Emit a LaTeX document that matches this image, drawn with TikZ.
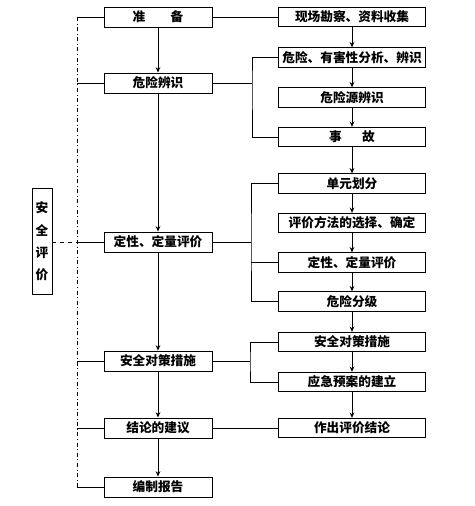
\documentclass[tikz,border=0pt]{standalone}
\usepackage{fontspec}
\newfontfamily\cjk{Noto Sans CJK SC}
\usetikzlibrary{arrows.meta}

\begin{document}
\begin{tikzpicture}[
    x=0.75pt, y=-0.75pt,
    every node/.style={font=\cjk\bfseries\fontsize{9.5}{11}\selectfont},
    lbox/.style={rectangle, draw, line width=0.7pt, inner sep=0pt,
        minimum width=81pt, minimum height=15pt},
    rbox/.style={rectangle, draw, line width=0.7pt, inner sep=0pt,
        minimum width=110pt, minimum height=14.5pt},
    arr/.style={-{Stealth[length=4pt, width=3.5pt]}, line width=0.6pt},
    link/.style={line width=0.6pt},
    spine/.style={line width=0.6pt, dash dot},
]
\useasboundingbox (0,0) rectangle (474,506);

% ============================================================ main steps, left
\node[lbox] (zb) at (158, 17)  {准\hspace{2em}备};
\node[lbox] (wx) at (158, 83)  {危险辨识};
\node[lbox] (dl) at (158, 242) {定性、定量评价};
\node[lbox] (al) at (158, 361) {安全对策措施};
\node[lbox] (jl) at (158, 428) {结论的建议};
\node[lbox] (bg) at (158, 487) {编制报告};

\foreach \a/\b in {zb/wx, wx/dl, dl/al, al/jl, jl/bg}
    \draw[arr] (\a) -- (\b);

% ============================================================ detailed steps, right
\node[rbox] (xc) at (352, 17)    {现场勘察、资料收集};
\node[rbox] (fx) at (352, 57.5)  {危险、有害性分析、辨识};
\node[rbox] (wy) at (352, 97.5)  {危险源辨识};
\node[rbox] (sg) at (352, 137)   {事\hspace{1.6em}故};
\node[rbox] (dy) at (352, 183.5) {单元划分};
\node[rbox] (ff) at (352, 223)   {评价方法的选择、确定};
\node[rbox] (dr) at (352, 262.5) {定性、定量评价};
\node[rbox] (fj) at (352, 301.5) {危险分级};
\node[rbox] (ar) at (352, 342)   {安全对策措施};
\node[rbox] (yj) at (352, 382)   {应急预案的建立};
\node[rbox] (zc) at (352, 428)   {作出评价结论};

\foreach \a/\b in {xc/fx, fx/wy, wy/sg, sg/dy, dy/ff, ff/dr, dr/fj, fj/ar, ar/yj, yj/zc}
    \draw[arr] (\a) -- (\b);

% ============================================================ left step to its group
\draw[link] (zb.east) -- (xc.west);

\coordinate (j1) at (252, 83);
\draw[link] (wx.east) -- (j1);
\draw[link] (fx.west) -| (j1) |- (sg.west);

\coordinate (j2) at (251, 242);
\draw[link] (dl.east) -- (j2);
\draw[link] (dy.west) -| (j2) |- (fj.west);
\draw[link] (dr.west) -- (dr.west -| j2);

\coordinate (j3) at (250, 361);
\draw[link] (al.east) -- (j3);
\draw[link] (ar.west) -| (j3) |- (yj.west);

\draw[link] (jl.east) -- (zc.west);

% ============================================================ the whole evaluation
\coordinate (s1) at (77, 17);
\coordinate (s2) at (77, 487);
\draw[spine] (s1) -- (s2);
\foreach \n in {zb, wx, dl, al, jl, bg}
    \draw[link] (\n.west) -- (\n.west -| s1);

\node[rectangle, draw, line width=0.7pt, inner sep=0pt,
    minimum width=15pt, minimum height=79pt, align=center,
    font=\cjk\bfseries\fontsize{9.5}{16.8}\selectfont] (aq) at (42, 241.5)
    {安\\全\\评\\价};
\draw[link, dashed] (aq.east |- dl.west) -- (dl.west -| s1);

\end{tikzpicture}
\end{document}
